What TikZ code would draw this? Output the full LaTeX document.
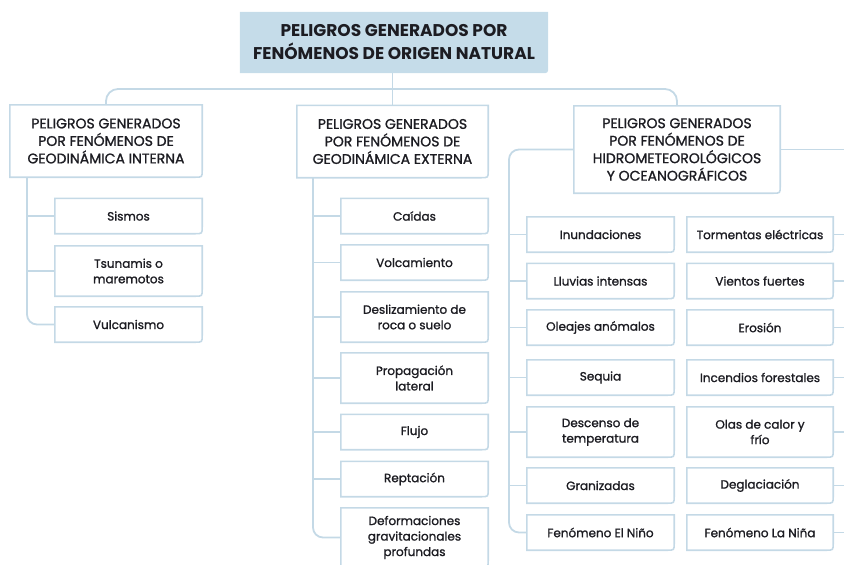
\documentclass[tikz,border=0pt]{standalone}
\usepackage{fontspec}
\setmainfont{Poppins}
\newfontfamily\medfont{Poppins}[FakeBold=1.3]
\usepackage{tikz}
\usetikzlibrary{backgrounds}
\definecolor{linec}{RGB}{196,217,230}
\definecolor{topfill}{RGB}{197,220,233}
\definecolor{inkc}{RGB}{28,28,34}
\pgfdeclarelayer{edgelayer}
\pgfdeclarelayer{nodelayer}
\pgfsetlayers{edgelayer,nodelayer,main}
\tikzstyle{link}=[draw=linec,line width=1.8pt]
\tikzstyle{boxline}=[draw=linec,line width=1.6pt]
\tikzstyle{title}=[inner sep=0pt,minimum width=308pt,minimum height=61pt,align=center,text=inkc,font=\fontsize{17}{23}\selectfont\bfseries]
\tikzstyle{branch}=[inner sep=0pt,minimum height=72pt,align=center,text=inkc,font=\medfont\fontsize{14}{17.5}\selectfont]
\tikzstyle{leaf}=[inner sep=0pt,minimum width=147pt,minimum height=35pt,align=center,text=inkc,font=\medfont\fontsize{12}{15.5}\selectfont]
\tikzstyle{tall}=[minimum height=50pt]

\begin{document}
\begin{tikzpicture}[x=1pt,y=-1pt]
	\useasboundingbox (0,0) rectangle (844,565);
	\begin{pgfonlayer}{nodelayer}
		\node [style=title] (top) at (394, 42.5) {PELIGROS GENERADOS POR\\FENÓMENOS DE ORIGEN NATURAL};
		\node [style=branch, minimum width=192pt] (geoint) at (106, 141) {PELIGROS GENERADOS\\POR FENÓMENOS DE\\GEODINÁMICA INTERNA};
		\node [style=branch, minimum width=191pt] (geoext) at (392.5, 141.5) {PELIGROS GENERADOS\\POR FENÓMENOS DE\\GEODINÁMICA EXTERNA};
		\node [style=branch, minimum width=206pt, minimum height=87pt] (hidro) at (677, 149.5) {PELIGROS GENERADOS\\POR FENÓMENOS DE\\HIDROMETEOROLÓGICOS\\Y OCEANOGRÁFICOS};
%		geodinamica interna
		\node [style=leaf] (sismos) at (128.5, 216) {Sismos};
		\node [style=leaf, style=tall] (tsunami) at (128.5, 271) {Tsunamis o\\maremotos};
		\node [style=leaf] (vulcan) at (128.5, 324.5) {Vulcanismo};
%		geodinamica externa
		\node [style=leaf] (caidas) at (414.5, 216) {Caídas};
		\node [style=leaf] (volcam) at (414.5, 262.5) {Volcamiento};
		\node [style=leaf, style=tall] (desliz) at (414.5, 317) {Deslizamiento de\\roca o suelo};
		\node [style=leaf, style=tall] (propag) at (414.5, 378) {Propagación\\lateral};
		\node [style=leaf] (flujo) at (414.5, 432) {Flujo};
		\node [style=leaf] (reptac) at (414.5, 479) {Reptación};
		\node [style=leaf, minimum height=59pt] (deform) at (414.5, 537.5) {Deformaciones\\gravitacionales\\profundas};
%		hidrometeorologicos
		\node [style=leaf] (inund) at (600.5, 234.5) {Inundaciones};
		\node [style=leaf] (lluvia) at (600.5, 281) {Lluvias intensas};
		\node [style=leaf] (oleaje) at (600.5, 327.5) {Oleajes anómalos};
		\node [style=leaf] (sequia) at (600.5, 377.5) {Sequia};
		\node [style=leaf, style=tall] (descen) at (600.5, 432) {Descenso de\\temperatura};
		\node [style=leaf] (graniz) at (600.5, 485.5) {Granizadas};
		\node [style=leaf] (nino) at (600.5, 532.5) {Fenómeno El Niño};
		\node [style=leaf, minimum width=146pt] (torment) at (760, 234.5) {Tormentas eléctricas};
		\node [style=leaf, minimum width=146pt] (vientos) at (760, 281) {Vientos fuertes};
		\node [style=leaf, minimum width=146pt] (erosion) at (760, 327.5) {Erosión};
		\node [style=leaf, minimum width=146pt] (incend) at (760, 377.5) {Incendios forestales};
		\node [style=leaf, style=tall, minimum width=146pt] (olas) at (760, 432) {Olas de calor y\\frío};
		\node [style=leaf, minimum width=146pt] (deglac) at (760, 485.5) {Deglaciación};
		\node [style=leaf, minimum width=146pt] (nina) at (760, 532.5) {Fenómeno La Niña};
	\end{pgfonlayer}
	\begin{pgfonlayer}{edgelayer}
		\coordinate (bus) at (0, 89);
		\coordinate (lspine) at (27, 0);
		\coordinate (mspine) at (313, 0);
		\coordinate (rspine) at (509, 0);
		\coordinate (redge) at (850, 0);
		\fill [topfill] (top.north west) -- (top.north east) -- ([yshift=7pt]top.south east) .. controls (top.south east) .. ([xshift=-7pt]top.south east) -- (top.south west) -- cycle;
		\foreach \n in {geoint,geoext,hidro,sismos,tsunami,vulcan,caidas,volcam,desliz,propag,flujo,reptac,deform,inund,lluvia,oleaje,sequia,descen,graniz,nino,torment,vientos,erosion,incend,olas,deglac,nina}
			\draw [style=boxline] (\n.north west) -- (\n.north east) -- ([yshift=7pt]\n.south east) .. controls (\n.south east) .. ([xshift=-7pt]\n.south east) -- (\n.south west) -- cycle;
		\draw [style=link] (top.south -| geoext.north) to (geoext.north);
		\draw [style=link, rounded corners=12pt] (geoint.north) -- (geoint.north |- bus) -- (hidro.north |- bus) -- (hidro.north);
		\draw [style=link, rounded corners=10pt] (geoint.south -| lspine) -- (vulcan.west -| lspine) -- (vulcan.west);
		\foreach \n in {sismos,tsunami}
			\draw [style=link] (\n.west -| lspine) to (\n.west);
		\draw [style=link, rounded corners=10pt] (geoext.south -| mspine) -- (deform.west -| mspine) -- (deform.west);
		\foreach \n in {caidas,volcam,desliz,propag,flujo,reptac}
			\draw [style=link] (\n.west -| mspine) to (\n.west);
		\draw [style=link, rounded corners=10pt] (hidro.west) -- (hidro.west -| rspine) -- (nino.west -| rspine) -- (nino.west);
		\foreach \n in {inund,lluvia,oleaje,sequia,descen,graniz}
			\draw [style=link] (\n.west -| rspine) to (\n.west);
		\foreach \n in {hidro,torment,vientos,erosion,incend,olas,deglac,nina}
			\draw [style=link] (\n.east) to (\n.east -| redge);
	\end{pgfonlayer}
\end{tikzpicture}
\end{document}
